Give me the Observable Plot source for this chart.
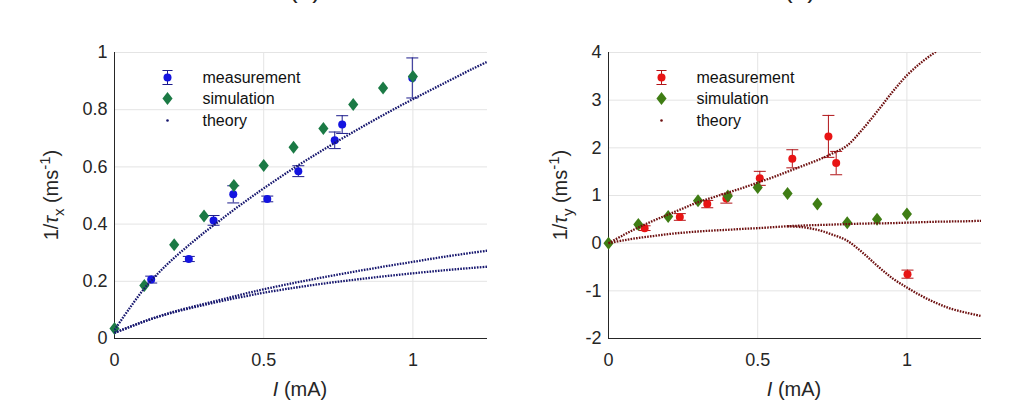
<!DOCTYPE html>
<html><head><meta charset="utf-8">
<script src="https://cdn.jsdelivr.net/npm/d3@7"></script>
<script src="https://cdn.jsdelivr.net/npm/@observablehq/plot@0.6"></script>
<style>
body{margin:0;background:#fff;font-family:"Liberation Sans",Arial,sans-serif;}
#wrap{position:relative;width:1021px;height:417px;overflow:hidden;display:flex;background:#fff;}
.ttl{position:absolute;top:-24px;width:100px;text-align:center;font-size:26px;line-height:26px;color:#222;}
</style></head><body>
<div id="wrap"></div>
<script>
// ---------- data ----------
const xTicks = [0, 0.5, 1];
const xTickLabels = ["0", "0.5", "1"];
const yTicksA = [0, 0.2, 0.4, 0.6, 0.8, 1];
const yTickLabelsA = ["0", "0.2", "0.4", "0.6", "0.8", "1"];
const yTicksB = [-2, -1, 0, 1, 2, 3, 4];
const yTickLabelsB = ["-2", "-1", "0", "1", "2", "3", "4"];
const legendLabels = ["measurement", "simulation", "theory"];

// panel (a): 1/tau_x
const measAx = [0.123, 0.249, 0.332, 0.398, 0.512, 0.616, 0.738, 0.763, 0.998];
const measAy = [0.206, 0.278, 0.413, 0.504, 0.488, 0.585, 0.693, 0.748, 0.911];
const measAerr = [0.012, 0.009, 0.017, 0.030, 0.010, 0.019, 0.029, 0.031, 0.070];
const simX = [0, 0.1, 0.2, 0.3, 0.4, 0.5, 0.6, 0.7, 0.8, 0.9, 1.0];
const simAy = [0.035, 0.185, 0.328, 0.428, 0.535, 0.605, 0.669, 0.734, 0.818, 0.876, 0.916];
const theoryAx = [0, 0.05, 0.1, 0.15, 0.2, 0.25, 0.3, 0.35, 0.4, 0.45, 0.5, 0.6, 0.7, 0.8, 0.9, 1.0, 1.1, 1.2, 1.25];
const theoryA1 = [0.03, 0.105, 0.175, 0.232, 0.282, 0.327, 0.37, 0.41, 0.45, 0.488, 0.525, 0.595, 0.66, 0.722, 0.781, 0.837, 0.89, 0.943, 0.968];
const theoryA2 = [0.02, 0.04, 0.06, 0.078, 0.094, 0.108, 0.121, 0.134, 0.147, 0.16, 0.172, 0.194, 0.214, 0.233, 0.251, 0.268, 0.285, 0.300, 0.307];
const theoryA3 = [0.02, 0.04, 0.06, 0.077, 0.092, 0.105, 0.117, 0.129, 0.14, 0.15, 0.16, 0.177, 0.192, 0.205, 0.217, 0.228, 0.238, 0.247, 0.251];

// panel (b): 1/tau_y
const measBx = [0.121, 0.239, 0.331, 0.395, 0.507, 0.616, 0.737, 0.763, 1.002];
const measBy = [0.315, 0.55, 0.82, 0.935, 1.36, 1.77, 2.24, 1.68, -0.65];
const measBerr = [0.05, 0.07, 0.077, 0.095, 0.147, 0.19, 0.44, 0.245, 0.085];
const simBy = [0.0, 0.39, 0.56, 0.89, 0.99, 1.17, 1.04, 0.82, 0.43, 0.50, 0.61];
const theoryB1x = [0, 0.05, 0.1, 0.15, 0.2, 0.25, 0.3, 0.35, 0.4, 0.45, 0.5, 0.55, 0.6, 0.65, 0.7, 0.75, 0.8, 0.85, 0.9, 0.95, 1.0, 1.05, 1.1, 1.15];
const theoryB1 = [0, 0.17, 0.33, 0.47, 0.6, 0.73, 0.86, 0.96, 1.06, 1.16, 1.27, 1.38, 1.5, 1.62, 1.74, 1.88, 2.05, 2.38, 2.76, 3.16, 3.52, 3.8, 4.03, 4.25];
const theoryB2x = [0, 0.05, 0.1, 0.15, 0.2, 0.25, 0.3, 0.35, 0.4, 0.45, 0.5, 0.55, 0.6, 0.65, 0.7, 0.75, 0.8, 0.85, 0.9, 0.95, 1.0, 1.05, 1.1, 1.15, 1.2, 1.25];
const theoryB2 = [0, 0.06, 0.11, 0.15, 0.19, 0.22, 0.245, 0.265, 0.28, 0.3, 0.315, 0.335, 0.355, 0.37, 0.38, 0.39, 0.40, 0.41, 0.415, 0.42, 0.43, 0.44, 0.45, 0.455, 0.46, 0.47];
const theoryB3x = [0.6, 0.65, 0.7, 0.75, 0.8, 0.85, 0.9, 0.95, 1.0, 1.05, 1.1, 1.15, 1.2, 1.25];
const theoryB3 = [0.355, 0.335, 0.28, 0.18, 0.05, -0.19, -0.47, -0.73, -0.93, -1.11, -1.26, -1.38, -1.46, -1.53];

// ---------- symbols ----------
const rad = (size) => Math.sqrt(size / Math.PI);
const capSym = {draw(ctx, size) { const r = rad(size); ctx.moveTo(-r, 0); ctx.lineTo(r, 0); }};
const diamondSym = {draw(ctx, size) { const r = rad(size), w = r * 0.78; ctx.moveTo(0, -r); ctx.lineTo(w, 0); ctx.lineTo(0, r); ctx.lineTo(-w, 0); ctx.closePath(); }};
const errLegendSym = {draw(ctx, size) { const r = rad(size), w = r * 0.72;
  ctx.moveTo(-w, -r); ctx.lineTo(w, -r); ctx.moveTo(0, -r); ctx.lineTo(0, r); ctx.moveTo(-w, r); ctx.lineTo(w, r); }};

function panel(cfg) {
  const meas = cfg.mx.map((x, i) => ({x, y: cfg.my[i], e: cfg.me[i]}));
  const sim = simX.map((x, i) => ({x, y: cfg.sy[i]}));
  const theory = cfg.theory.flatMap(([tx, ty], k) => tx.map((x, i) => ({x, y: ty[i], k})));
  const fa = "top-left", lx = 53, tx = 88, rows = [25, 46, 68];
  const svg = Plot.plot({
    width: cfg.width, height: 417,
    marginLeft: cfg.ml, marginRight: cfg.mr, marginTop: 52, marginBottom: 79,
    x: {domain: [0, 1.25]},
    y: {domain: cfg.yDomain},
    style: {fontFamily: "Liberation Sans, Arial, sans-serif", fontSize: "18px", color: "#262626", background: "white", overflow: "visible"},
    marks: [
      Plot.gridX(xTicks, {stroke: "#e4e4e4", strokeOpacity: 1}),
      Plot.gridY(cfg.yTicks, {stroke: "#e4e4e4", strokeOpacity: 1}),
      Plot.axisX(xTicks, {tickSize: 0, tickPadding: 15, fontSize: 18, label: null, tickFormat: d => xTickLabels[xTicks.indexOf(d)]}),
      Plot.axisY(cfg.yTicks, {tickSize: 0, tickPadding: 7, fontSize: 18, label: null, tickFormat: d => cfg.yLabels[cfg.yTicks.indexOf(d)]}),
      Plot.ruleX([0], {stroke: "#262626"}),
      Plot.ruleY([cfg.yDomain[0]], {stroke: "#262626"}),
      // error bars
      Plot.ruleX(meas, {x: "x", y1: d => d.y - d.e, y2: d => d.y + d.e, stroke: cfg.errColor, strokeWidth: 1}),
      Plot.dot(meas, {x: "x", y: d => d.y + d.e, symbol: capSym, r: 6, stroke: cfg.errColor, fill: "none", strokeWidth: 1}),
      Plot.dot(meas, {x: "x", y: d => d.y - d.e, symbol: capSym, r: 6, stroke: cfg.errColor, fill: "none", strokeWidth: 1}),
      Plot.dot(meas, {x: "x", y: "y", r: 4, fill: cfg.measColor, stroke: "none"}),
      // simulation
      Plot.dot(sim, {x: "x", y: "y", symbol: diamondSym, r: 6.5, fill: cfg.simColor, stroke: "none"}),
      // theory
      Plot.line(theory, {x: "x", y: "y", z: "k", stroke: cfg.theoryColor, strokeWidth: 2.3, strokeDasharray: "1.6,1.2", strokeLinecap: "butt", curve: "catmull-rom", clip: true}),
      // legend
      Plot.dot([0], {frameAnchor: fa, dx: lx, dy: rows[0], symbol: errLegendSym, r: 7, stroke: cfg.errColor, fill: "none", strokeWidth: 1}),
      Plot.dot([0], {frameAnchor: fa, dx: lx, dy: rows[0], r: 4, fill: cfg.measColor, stroke: "none"}),
      Plot.dot([0], {frameAnchor: fa, dx: lx, dy: rows[1], symbol: diamondSym, r: 6.5, fill: cfg.simColor, stroke: "none"}),
      Plot.dot([0], {frameAnchor: fa, dx: lx, dy: rows[2], r: 1.3, fill: cfg.theoryColor, stroke: "none"}),
      ...legendLabels.map((t, i) => Plot.text([t], {frameAnchor: fa, dx: tx, dy: rows[i], textAnchor: "start", lineAnchor: "middle", fontSize: 16, fill: "#111"}))
    ]
  });
  const s = d3.select(svg);
  // y label
  const yl = s.append("text")
    .attr("transform", `translate(${cfg.ylx},195) rotate(-90)`)
    .attr("text-anchor", "middle").attr("font-size", 20).attr("fill", "#262626")
    .attr("font-family", "Liberation Sans, Arial, sans-serif");
  yl.append("tspan").text("1/");
  yl.append("tspan").attr("font-style", "italic").text("τ");
  yl.append("tspan").attr("dy", 6).attr("font-size", 15).text(cfg.sub);
  yl.append("tspan").attr("dy", -6).text(" (ms");
  yl.append("tspan").attr("dy", -8).attr("font-size", 15).text("-1");
  yl.append("tspan").attr("dy", 8).text(")");
  // x label
  const xl = s.append("text")
    .attr("x", cfg.xlx).attr("y", 396)
    .attr("text-anchor", "middle").attr("font-size", 20).attr("fill", "#262626")
    .attr("font-family", "Liberation Sans, Arial, sans-serif");
  xl.append("tspan").attr("font-style", "italic").text("I");
  xl.append("tspan").text(" (mA)");
  return svg;
}

const wrap = document.getElementById("wrap");
wrap.appendChild(panel({
  width: 510, ml: 114, mr: 23, yDomain: [0, 1], yTicks: yTicksA, yLabels: yTickLabelsA,
  mx: measAx, my: measAy, me: measAerr, sy: simAy,
  theory: [[theoryAx, theoryA1], [theoryAx, theoryA2], [theoryAx, theoryA3]],
  measColor: "#1414e0", errColor: "#1c1c8c", simColor: "#1b7a45", theoryColor: "#16166e",
  sub: "x", ylx: 58, xlx: 300
}));
wrap.appendChild(panel({
  width: 511, ml: 98, mr: 40, yDomain: [-2, 4], yTicks: yTicksB, yLabels: yTickLabelsB,
  mx: measBx, my: measBy, me: measBerr, sy: simBy,
  theory: [[theoryB1x, theoryB1], [theoryB2x, theoryB2], [theoryB3x, theoryB3]],
  measColor: "#e81414", errColor: "#b01418", simColor: "#3f7d14", theoryColor: "#6e1010",
  sub: "y", ylx: 57, xlx: 284
}));
const t1 = document.createElement("div"); t1.className = "ttl"; t1.style.left = "255px"; t1.textContent = "(a)";
const t2 = document.createElement("div"); t2.className = "ttl"; t2.style.left = "750px"; t2.textContent = "(b)";
wrap.appendChild(t1); wrap.appendChild(t2);
</script>
</body></html>
